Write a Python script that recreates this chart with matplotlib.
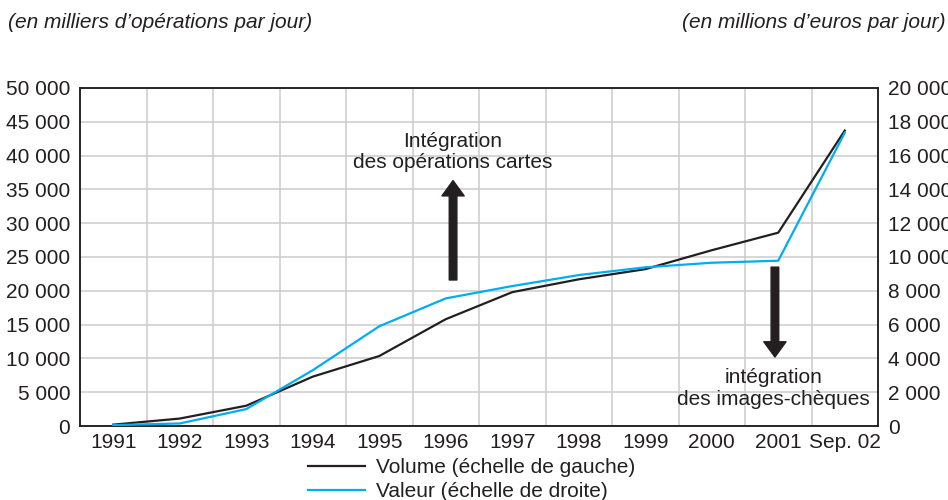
import matplotlib
matplotlib.use("Agg")
import matplotlib.pyplot as plt
from matplotlib.lines import Line2D

plt.rcParams['font.family'] = ['Liberation Sans', 'DejaVu Sans']

# === Data ===
years = ["1991", "1992", "1993", "1994", "1995", "1996", "1997",
         "1998", "1999", "2000", "2001", "Sep. 02"]
# volume, thousands of operations per day (left scale)
volume = [200, 1100, 3000, 7300, 10350, 15800, 19800,
          21700, 23200, 26000, 28600, 43700]
# value, millions of euros per day (right scale)
valeur = [50, 150, 1000, 3300, 5900, 7550, 8280,
          8930, 9390, 9660, 9780, 17350]

left_ticks = list(range(0, 50001, 5000))
right_ticks = list(range(0, 20001, 2000))

def fr(v):
    return f"{v:,}".replace(",", " ")

txt_col = "#231f20"
blue = "#00aeef"
fs = 15

fig = plt.figure(figsize=(9.48, 5.0), dpi=100)
ax = fig.add_axes([80 / 948, 1 - 426 / 500, 798 / 948, 338 / 500])
ax2 = ax.twinx()

x = list(range(len(years)))
ax.plot(x, volume, color=txt_col, lw=1.6, zorder=3)
ax2.plot(x, valeur, color=blue, lw=1.6, zorder=3)

ax.set_xlim(-0.5, len(years) - 0.5)
ax.set_ylim(0, 50000)
ax2.set_ylim(0, 20000)

ax.set_xticks(x)
ax.set_xticklabels(years)
ax.set_xticks([i + 0.5 for i in x[:-1]], minor=True)
ax.set_yticks(left_ticks)
ax.set_yticklabels([fr(v) for v in left_ticks])
ax2.set_yticks(right_ticks)
ax2.set_yticklabels([fr(v) for v in right_ticks])

ax.grid(True, which="minor", axis="x", color="#cccccc", lw=1.1)
ax.grid(True, which="major", axis="y", color="#cccccc", lw=1.1)
ax.set_axisbelow(True)

for a in (ax, ax2):
    a.tick_params(which="both", length=0, labelsize=fs, colors=txt_col, pad=7)
    for s in a.spines.values():
        s.set_color(txt_col)
        s.set_linewidth(1.1)
ax.tick_params(axis="x", pad=5)

# === Annotations ===
ax.text(5.11, 40500, "Intégration\ndes opérations cartes", ha="center", va="center",
        fontsize=fs, color=txt_col, linespacing=1.1)
ax.annotate("", xy=(5.11, 36300), xytext=(5.11, 21600),
            arrowprops=dict(width=5.5, headwidth=16, headlength=11,
                            facecolor=txt_col, edgecolor=txt_col,
                            joinstyle="round", capstyle="round", lw=1))
ax.annotate("", xy=(9.95, 10200), xytext=(9.95, 23500),
            arrowprops=dict(width=5.5, headwidth=16, headlength=11,
                            facecolor=txt_col, edgecolor=txt_col,
                            joinstyle="round", capstyle="round", lw=1))
ax.text(9.93, 5500, "intégration\ndes images-chèques", ha="center", va="center",
        fontsize=fs, color=txt_col, linespacing=1.2)

# === Units ===
fig.text(8 / 948, 1 - 22 / 500, "(en milliers d’opérations par jour)", style="italic",
         fontsize=fs, color=txt_col, ha="left", va="center")
fig.text(946 / 948, 1 - 22 / 500, "(en millions d’euros par jour)", style="italic",
         fontsize=fs, color=txt_col, ha="right", va="center")

# === Legend ===
handles = [Line2D([], [], color=txt_col, lw=1.6, label="Volume (échelle de gauche)"),
           Line2D([], [], color=blue, lw=1.6, label="Valeur (échelle de droite)")]
fig.legend(handles=handles, loc="upper left", bbox_to_anchor=(308 / 948, 1 - 458 / 500),
           borderaxespad=0, borderpad=0, handlelength=2.75, handletextpad=0.5,
           labelspacing=0.25, frameon=False, fontsize=fs, labelcolor=txt_col)

fig.savefig("out.png", dpi=100)
